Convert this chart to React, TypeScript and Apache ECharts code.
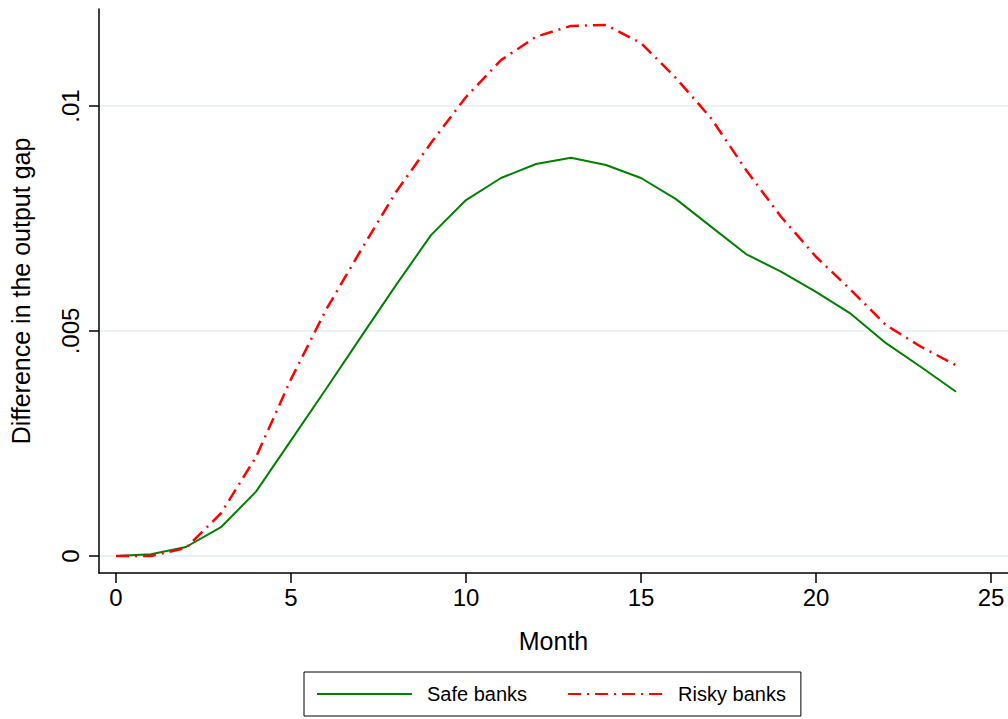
import React, { useEffect, useRef } from "react";
import * as echarts from "echarts";

const months: number[] = [0, 1, 2, 3, 4, 5, 6, 7, 8, 9, 10, 11, 12, 13, 14, 15, 16, 17, 18, 19, 20, 21, 22, 23, 24];
const safeBanks: number[] = [0, 0.00004, 0.0002, 0.00064, 0.00143, 0.00257, 0.00371, 0.00487, 0.00602, 0.00713, 0.00791, 0.0084, 0.00871, 0.00885, 0.00869, 0.0084, 0.00793, 0.00732, 0.00671, 0.00632, 0.00587, 0.00538, 0.00473, 0.0042, 0.00365];
const riskyBanks: number[] = [0, 0, 0.00018, 0.00095, 0.0022, 0.00393, 0.00547, 0.0068, 0.00809, 0.00918, 0.0102, 0.01102, 0.01154, 0.01178, 0.0118, 0.0114, 0.01062, 0.00973, 0.00858, 0.00754, 0.00665, 0.00591, 0.00513, 0.00465, 0.00424];
const xTicks: number[] = [0, 5, 10, 15, 20, 25];
const yTicks: number[] = [0, 0.005, 0.01];
const yTickLabels: string[] = ["0", ".005", ".01"];

const FONT = "Liberation Sans, Arial, sans-serif";

export default function App() {
  const ref = useRef<HTMLDivElement>(null);
  useEffect(() => {
    if (!ref.current) return;
    const chart = echarts.init(ref.current, undefined, { renderer: "svg" });
    chart.setOption({
      animation: false,
      backgroundColor: "#fff",
      grid: { left: 99, top: 9, right: 0, bottom: 146, containLabel: false },
      legend: {
        left: 304,
        top: 672,
        padding: [12, 15, 12, 12],
        borderColor: "#000",
        borderWidth: 1,
        itemWidth: 95,
        itemHeight: 14,
        itemGap: 40,
        itemStyle: { opacity: 0 },
        textStyle: { fontSize: 20, color: "#000", fontFamily: FONT, padding: [0, 0, 0, 10] },
        data: ["Safe banks", "Risky banks"],
      },
      xAxis: {
        type: "value",
        min: -17 / 35,
        max: 892 / 35,
        name: "Month",
        nameLocation: "middle",
        nameGap: 55,
        nameTextStyle: { fontSize: 25, color: "#000", fontFamily: FONT },
        axisLine: { show: true, onZero: false, lineStyle: { color: "#000", width: 1.5 } },
        axisTick: { show: true, length: 10, customValues: xTicks, lineStyle: { color: "#000", width: 1.5 } },
        axisLabel: { customValues: xTicks, fontSize: 24, color: "#000", fontFamily: FONT, margin: 12 },
        splitLine: { show: false },
      },
      yAxis: {
        type: "value",
        min: -17 / 45000,
        max: 547 / 45000,
        name: "Difference in the output gap",
        nameLocation: "middle",
        nameRotate: 90,
        nameGap: 66,
        nameTextStyle: { fontSize: 25, color: "#000", fontFamily: FONT },
        axisLine: { show: true, onZero: false, lineStyle: { color: "#000", width: 1.5 } },
        axisTick: { show: true, length: 10, customValues: yTicks, lineStyle: { color: "#000", width: 1.5 } },
        axisLabel: {
          customValues: yTicks,
          rotate: 90,
          fontSize: 24,
          color: "#000",
          fontFamily: FONT,
          margin: 17,
          formatter: (v: number) => {
            const i = yTicks.findIndex((t) => Math.abs(t - v) < 1e-9);
            return i >= 0 ? yTickLabels[i] : "";
          },
        },
        splitLine: { show: true, lineStyle: { color: "#e6eef1", width: 1.5 } },
      },
      series: [
        {
          name: "Safe banks",
          type: "line",
          data: months.map((m, i) => [m, safeBanks[i]]),
          symbol: "none",
          lineStyle: { color: "#008000", width: 2 },
          itemStyle: { color: "#008000" },
        },
        {
          name: "Risky banks",
          type: "line",
          data: months.map((m, i) => [m, riskyBanks[i]]),
          symbol: "none",
          lineStyle: { color: "#ff0000", width: 2.5, type: [13, 6, 2, 6] },
          itemStyle: { color: "#ff0000" },
        },
      ],
    });
    return () => chart.dispose();
  }, []);
  return <div ref={ref} style={{ position: "absolute", left: 0, top: 0, width: 1008, height: 719 }} />;
}
